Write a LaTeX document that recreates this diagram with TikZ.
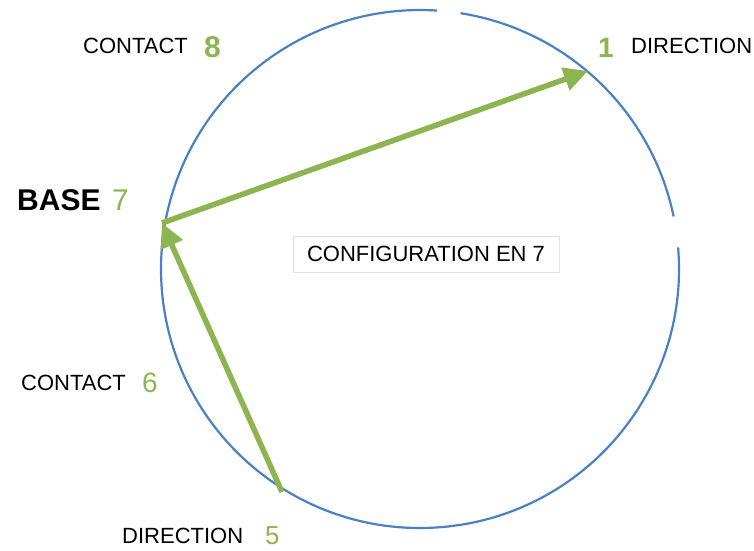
\documentclass[tikz,border=0pt]{standalone}
\usepackage{fontspec}
\setmainfont{Liberation Sans}
\usetikzlibrary{arrows.meta}
\definecolor{arrgreen}{RGB}{140,180,80}
\definecolor{circblue}{RGB}{74,128,198}
\definecolor{boxgray}{RGB}{225,225,225}
\tikzset{
  lbl/.style={anchor=base west, inner sep=0pt, font=\fontsize{22}{22}\selectfont, text=black},
  num/.style={anchor=base west, inner sep=0pt, font=\fontsize{28}{28}\selectfont, text=arrgreen},
  vec/.style={draw=arrgreen, line width=5.5pt, -{Triangle[length=24pt,width=23pt]}},
  ring/.style={draw=circblue, line width=2.2pt}
}
\begin{document}
\begin{tikzpicture}[x=1pt,y=-1pt]
\useasboundingbox (0,0) rectangle (754,550);
\coordinate (c) at (420,269);
% circle with the two small gaps of the reference
\draw[ring] (c) ++(-81:259) arc[start angle=-81, end angle=-11.7, radius=259];
\draw[ring] (c) ++(-4.8:259) arc[start angle=-4.8, end angle=273.8, radius=259];
% points on the circle
\coordinate (p7) at (162,223);
\coordinate (p1) at (588,71);
\coordinate (p5) at (282,492);
\draw[vec] (p7) -- (p1);
\draw[vec] (p5) -- (p7);
% central box
\node[draw=boxgray, line width=0.8pt, minimum width=266pt, minimum height=36pt, inner sep=0pt,
      font=\fontsize{22}{22}\selectfont] (cfg) at (426,254) {CONFIGURATION EN 7};
% labels
\node[lbl] (t8) at (83,53) {CONTACT};
\node[num, font=\fontsize{30}{30}\selectfont\bfseries] (n8) at (204,57) {8};
\node[num, font=\fontsize{28}{28}\selectfont\bfseries] (n1) at (598,57) {1};
\node[lbl] (t1) at (631,53) {DIRECTION};
\node[lbl, font=\fontsize{30}{30}\selectfont\bfseries] (t7) at (17,210) {BASE};
\node[num, font=\fontsize{30}{30}\selectfont] (n7) at (112,210) {7};
\node[lbl] (t6) at (21,390) {CONTACT};
\node[num] (n6) at (142,392) {6};
\node[lbl] (t5) at (122,543) {DIRECTION};
\node[num, font=\fontsize{26}{26}\selectfont] (n5) at (265,544) {5};
\end{tikzpicture}
\end{document}
